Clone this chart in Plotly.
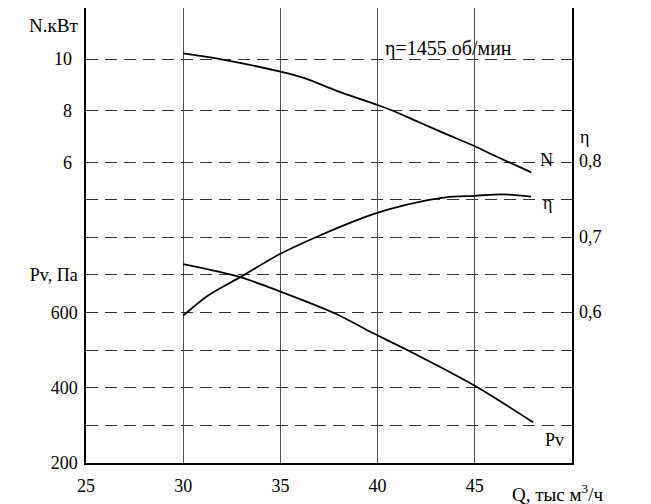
import plotly.graph_objects as go

# ---- data ----
q_n = [30, 31.9, 35, 36.2, 37.9, 40, 41, 42.1, 43.5, 45, 46, 47.9]
n_kw = [10.22, 10.0, 9.51, 9.27, 8.77, 8.22, 7.93, 7.56, 7.10, 6.62, 6.26, 5.61]

q_eta = [30, 31.3, 33, 35, 37, 39.7, 41.3, 43.5, 45, 46.4, 47.9]
eta = [0.595, 0.622, 0.647, 0.677, 0.701, 0.729, 0.741, 0.752, 0.754, 0.756, 0.753]

q_pv = [30, 32.9, 35, 37.9, 39.6, 41.6, 45, 48.0]
pv = [728, 694, 655, 595, 549, 498, 405, 308]

x_ticks = [25, 30, 35, 40, 45]
pv_ticks = [200, 300, 400, 500, 600, 700, 800, 900]
pv_tick_text = ["200", "", "400", "", "600", "Pv, Па", "", ""]
n_ticks = [6, 8, 10]
eta_ticks = [0.6, 0.7, 0.8]
eta_tick_text = ["0,6", "0,7", "0,8"]

FONT = "Liberation Serif"
FS = 18
GRID = "#333333"

fig = go.Figure()
line = dict(color="black", width=1.8, shape="spline", smoothing=0.8)
fig.add_trace(go.Scatter(x=q_n, y=n_kw, mode="lines", line=line, yaxis="y2", showlegend=False))
fig.add_trace(go.Scatter(x=q_eta, y=eta, mode="lines", line=line, yaxis="y3", showlegend=False))
fig.add_trace(go.Scatter(x=q_pv, y=pv, mode="lines", line=line, yaxis="y", showlegend=False))

# the page body adds an 8px offset, so the figure is sized to fit the remaining window
fig.update_layout(
    width=643, height=496,
    margin=dict(l=78, r=79, t=0, b=41),
    paper_bgcolor="white", plot_bgcolor="white",
    font=dict(family=FONT, size=FS, color="black"),
    xaxis=dict(range=[25, 50], tickvals=x_ticks, showgrid=True, gridcolor="#555555", gridwidth=1,
               showline=True, linecolor="black", linewidth=1.5, mirror=True, automargin=False,
               zeroline=False, ticks="", ticklabelstandoff=6),
    yaxis=dict(range=[200, 1408], tickvals=pv_ticks, ticktext=pv_tick_text,
               showgrid=True, gridcolor=GRID, gridwidth=1, griddash="12px,7px",
               showline=True, linecolor="black", linewidth=1.5, mirror=True, automargin=False,
               zeroline=False, ticks="", ticklabelstandoff=3),
    yaxis2=dict(range=[-5.66, 11.98], tickvals=n_ticks, overlaying="y", side="left",
                showgrid=True, gridcolor=GRID, gridwidth=1, griddash="12px,7px", automargin=False,
                showline=False, zeroline=False, ticks="", ticklabelstandoff=13),
    yaxis3=dict(range=[0.3993, 1.0033], tickvals=eta_ticks, ticktext=eta_tick_text,
                overlaying="y", side="right", showgrid=False, showline=False, automargin=False,
                zeroline=False, ticks="", ticklabelstandoff=6),
)

ann = [
    dict(text="N.кВт", xref="paper", yref="paper", x=-0.012, y=0.962, xanchor="right", yanchor="middle", font=dict(size=19)),
    dict(text="η=1455 об/мин", xref="paper", yref="paper", x=0.612, y=0.912, xanchor="left", yanchor="middle", font=dict(size=20)),
    dict(text="N", xref="x", yref="y2", x=48.7, y=6.07, xanchor="center", yanchor="middle"),
    dict(text="η", xref="x", yref="y3", x=48.75, y=0.744, xanchor="center", yanchor="middle"),
    dict(text="Pv", xref="x", yref="y", x=49.1, y=261, xanchor="center", yanchor="middle"),
    dict(text="η", xref="paper", yref="paper", x=1.013, y=0.717, xanchor="left", yanchor="middle"),
    dict(text="Q, тыс м<sup>3</sup>/ч", xref="paper", yref="paper", x=0.872, y=-0.066, xanchor="left", yanchor="middle", font=dict(size=19)),
]
for a in ann:
    a.setdefault("showarrow", False)
    fig.add_annotation(**a)

fig.write_html("out.html")
